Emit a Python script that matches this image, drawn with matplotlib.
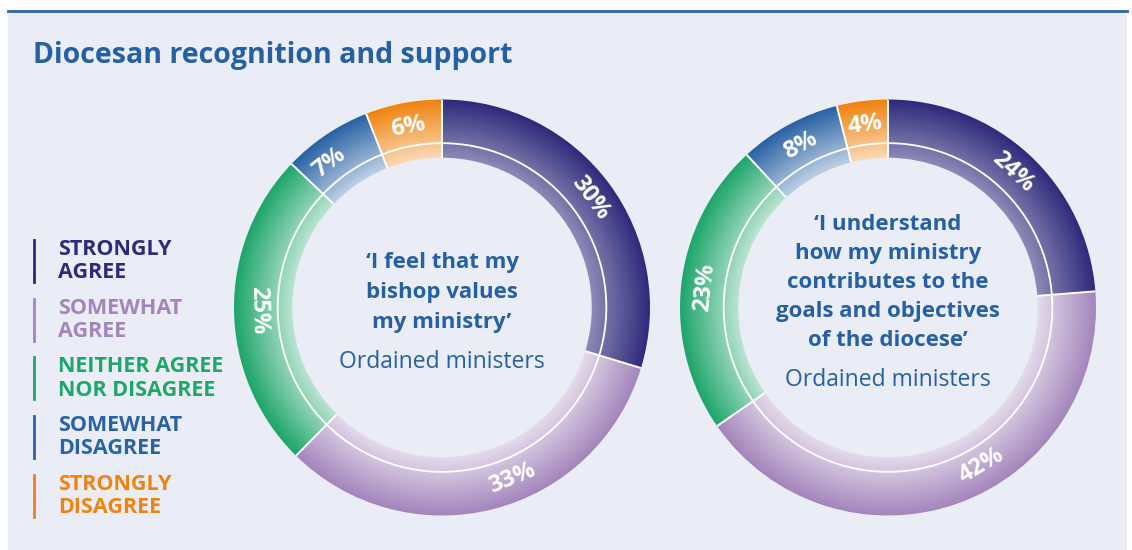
import numpy as np
import matplotlib.pyplot as plt
from matplotlib.patches import Rectangle, Circle
from matplotlib.lines import Line2D
from matplotlib.colors import to_rgb

plt.rcParams['font.family'] = ['Open Sans', 'DejaVu Sans']

W, H = 1132, 550

# data
categories = ["STRONGLY\nAGREE", "SOMEWHAT\nAGREE", "NEITHER AGREE\nNOR DISAGREE",
              "SOMEWHAT\nDISAGREE", "STRONGLY\nDISAGREE"]
bishop_values = [30, 33, 25, 7, 6]
goals_values = [24, 42, 23, 8, 4]
bishop_question = "‘I feel that my\nbishop values\nmy ministry’"
goals_question = "‘I understand\nhow my ministry\ncontributes to the\ngoals and objectives\nof the diocese’"
group_label = "Ordained ministers"
title = "Diocesan recognition and support"

# style
colors = ["#2e2a7b", "#a385bb", "#1ea66b", "#2962a5", "#f0830f"]
BLUE = "#2660a4"
BG = "#eaecf6"
INNER = 0.72
SPLIT = 0.79


def px(x, y):
    return x / W, 1 - y / H


def draw_donut(cx, cy, R, values, nudges):
    half = R * 1.05
    l, b = px(cx - half, cy + half)
    ax = fig.add_axes([l, b, 2 * half / W, 2 * half / H])
    ax.set_facecolor('none')

    wedges, _ = ax.pie(values, radius=1.0, startangle=90, counterclock=False,
                       wedgeprops=dict(width=1 - INNER, facecolor='none', edgecolor='none'))

    # radial gradient: full colour at the rim, fading towards the hole
    g = np.linspace(-1.05, 1.05, 500)
    xx, yy = np.meshgrid(g, g)
    rr = np.hypot(xx, yy)
    t = np.clip((1 - rr) / (1 - INNER), 0, 1)[..., None]
    for w, c in zip(wedges, colors):
        k = 0.45 if c == colors[0] else 0.7
        base = np.array(to_rgb(c))
        img = base * (1 - k * t) + np.ones(3) * k * t
        im = ax.imshow(img, extent=(-1.05, 1.05, -1.05, 1.05), origin='lower', zorder=1)
        im.set_clip_path(w)

    # white separators
    for w in wedges:
        a = np.radians(w.theta1)
        ax.plot([INNER * np.cos(a), np.cos(a)], [INNER * np.sin(a), np.sin(a)],
                color='white', lw=1.4, zorder=3, solid_capstyle='butt')
    ax.add_patch(Circle((0, 0), SPLIT, fill=False, ec='white', lw=1.3, zorder=3))

    for w, v, n in zip(wedges, values, nudges):
        a = (w.theta1 + w.theta2) / 2 + n
        a = (a + 180) % 360 - 180
        rot = a + 90 if a < 0 else a - 90
        r = 0.885
        ax.text(r * np.cos(np.radians(a)), r * np.sin(np.radians(a)), f"{v}%",
                rotation=rot, rotation_mode='anchor', ha='center', va='center',
                color='white', fontsize=17, fontweight='bold', zorder=4)

    ax.set_xlim(-1.05, 1.05)
    ax.set_ylim(-1.05, 1.05)
    ax.set_aspect('equal')
    ax.axis('off')
    return ax


fig = plt.figure(figsize=(W / 100, H / 100), dpi=100, facecolor='white')

fig.add_artist(Rectangle(px(8, 550), (1127 - 8) / W, (550 - 12) / H,
                         transform=fig.transFigure, facecolor=BG, edgecolor='none', zorder=0))
fig.add_artist(Line2D([8 / W, 1127 / W], [1 - 11 / H] * 2, color="#2a64a8", lw=2))

fig.text(*px(33, 55), title, ha='left', va='center', fontsize=20.5, fontweight='bold', color=BLUE)

# legend
for i, (cat, col) in enumerate(zip(categories, colors)):
    yc = 261 + i * 58.7
    x0, y0 = px(34, yc - 21)
    _, y1 = px(34, yc + 21)
    fig.add_artist(Line2D([x0, x0], [y0, y1], color=col, lw=2))
    fig.text(*px(58, yc), cat, ha='left', va='center', fontsize=15.5, fontweight='bold',
             color=col, linespacing=1.14)

draw_donut(442, 307.5, 208, bishop_values, [0, 8, 0, 4, 0])
draw_donut(888, 307.5, 208, goals_values, [0, 11, 0, 0, 0])

fig.text(*px(442, 292.5), bishop_question, ha='center', va='center', fontsize=16,
         fontweight='bold', color=BLUE, linespacing=1.55)
fig.text(*px(442, 362), group_label, ha='center', va='center', fontsize=16.5, color=BLUE)
fig.text(*px(888, 282.5), goals_question, ha='center', va='center', fontsize=16,
         fontweight='bold', color=BLUE, linespacing=1.5)
fig.text(*px(888, 380), group_label, ha='center', va='center', fontsize=16.5, color=BLUE)

fig.savefig('out.png', dpi=100, facecolor='white')
